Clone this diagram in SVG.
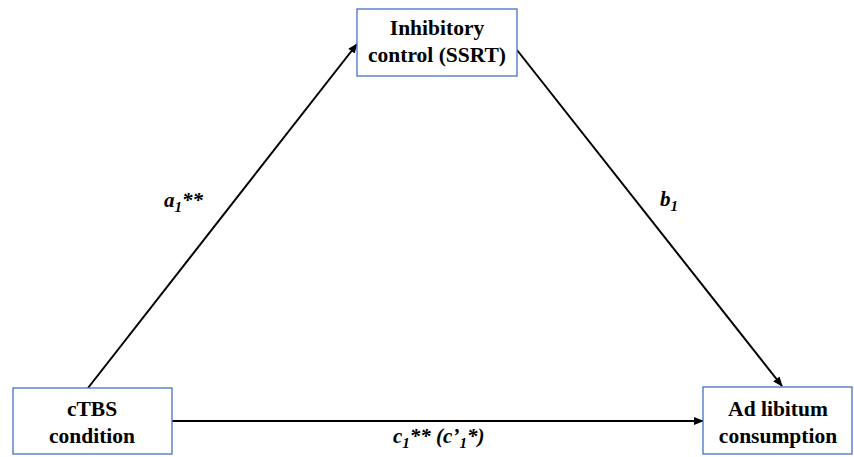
<svg xmlns="http://www.w3.org/2000/svg" width="854" height="457" viewBox="0 0 854 457">
<defs>
<style>
.box{fill:#fff;stroke:#4472C4;stroke-width:1.3}
.t{font-family:'Liberation Serif','Times New Roman','DejaVu Serif',serif;font-weight:bold;font-size:21.5px;fill:#000;text-anchor:middle}
.l{font-family:'Liberation Serif','Times New Roman','DejaVu Serif',serif;font-weight:bold;font-style:italic;font-size:21px;fill:#000}
.s{font-size:15px}
.e{stroke:#000;stroke-width:2;fill:none}
</style>
<marker id="ah" markerWidth="10" markerHeight="8" refX="9" refY="4" orient="auto" markerUnits="userSpaceOnUse">
<path d="M0,0 L10,4 L0,8 z" fill="#000"/>
</marker>
</defs>
<g id="connectors">
<line class="e" x1="88" y1="388" x2="357" y2="44" marker-end="url(#ah)"/>
<line class="e" x1="517" y1="50" x2="782" y2="386" marker-end="url(#ah)"/>
<line class="e" x1="172" y1="421" x2="703" y2="421" marker-end="url(#ah)"/>
</g>
<g id="node-ic">
<rect class="box" x="357" y="9" width="160" height="67"/>
<text class="t" x="437" y="35">Inhibitory</text>
<text class="t" x="437" y="62">control (SSRT)</text>
</g>
<g id="node-ctbs">
<rect class="box" x="13" y="388" width="159" height="66"/>
<text class="t" x="92" y="416">cTBS</text>
<text class="t" x="92" y="443">condition</text>
</g>
<g id="node-adlib">
<rect class="box" x="703" y="387" width="149" height="67"/>
<text class="t" x="778" y="416">Ad libitum</text>
<text class="t" x="778" y="443">consumption</text>
</g>
<g id="labels">
<text class="l" x="164" y="207">a<tspan class="s" dy="5">1</tspan><tspan dy="-5">**</tspan></text>
<text class="l" x="660" y="206">b<tspan class="s" dy="5">1</tspan></text>
<text class="l" x="393" y="443">c<tspan class="s" dy="5">1</tspan><tspan dy="-5">** (c’</tspan><tspan class="s" dy="5">1</tspan><tspan dy="-5">*)</tspan></text>
</g>
</svg>
